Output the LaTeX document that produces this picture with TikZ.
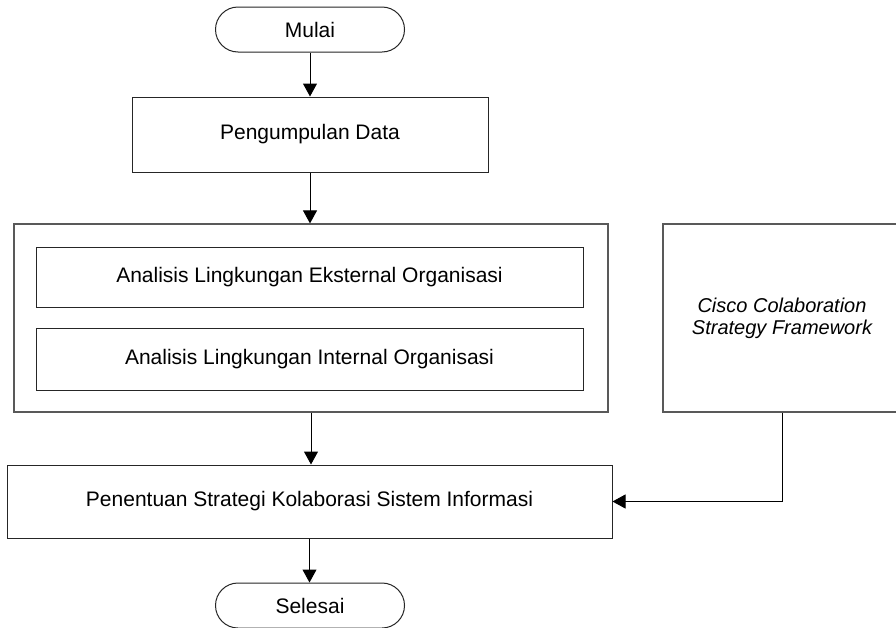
\documentclass[tikz,border=0pt]{standalone}
\usepackage{fontspec}
\setmainfont{Liberation Sans}
\usetikzlibrary{shapes.misc,arrows.meta}
\begin{document}
\begin{tikzpicture}[x=1pt,y=-1pt,
  every node/.style={font=\fontsize{21}{24}\selectfont},
  proc/.style={draw=black!85,line width=1pt,rectangle,inner sep=0pt},
  grp/.style={draw=black!65,line width=1.2pt,rectangle,inner sep=0pt},
  term/.style={draw=black!85,line width=1pt,rounded rectangle,rounded rectangle arc length=180,inner sep=0pt,minimum width=189pt,minimum height=45pt},
  arr/.style={draw=black,line width=1pt,-{Triangle[width=14pt,length=13pt]}}]
\clip (0,0) rectangle (896,627);
\fill[white] (0,0) rectangle (896,627);
\node[term] (mulai) at (310,29.5) {Mulai};
\node[proc,minimum width=356pt,minimum height=75pt] (peng) at (310,134.5) {Pengumpulan Data};
\node[grp,minimum width=594pt,minimum height=188pt] (outer) at (311,318) {};
\node[proc,minimum width=547pt,minimum height=60pt] (ext) at (309.5,277) {Analisis Lingkungan Eksternal Organisasi};
\node[proc,minimum width=547pt,minimum height=62pt] (int) at (309.5,359) {Analisis Lingkungan Internal Organisasi};
\node[grp,minimum width=238pt,minimum height=188pt,align=center,font=\fontsize{20}{22}\selectfont\itshape] (cisco) at (782,318) {Cisco Colaboration\\Strategy Framework};
\node[proc,minimum width=605pt,minimum height=73pt] (pen) at (309.5,501.5) {Penentuan Strategi Kolaborasi Sistem Informasi};
\node[term] (sel) at (310,605.5) {Selesai};
\draw[arr] (mulai.south) -- (mulai.south |- peng.north);
\draw[arr] (peng.south) -- (peng.south |- outer.north);
\draw[arr] (outer.south) -- (outer.south |- pen.north);
\draw[arr] (pen.south) -- (pen.south |- sel.north);
\draw[arr] (cisco.south) |- (pen.east);
\end{tikzpicture}
\end{document}
